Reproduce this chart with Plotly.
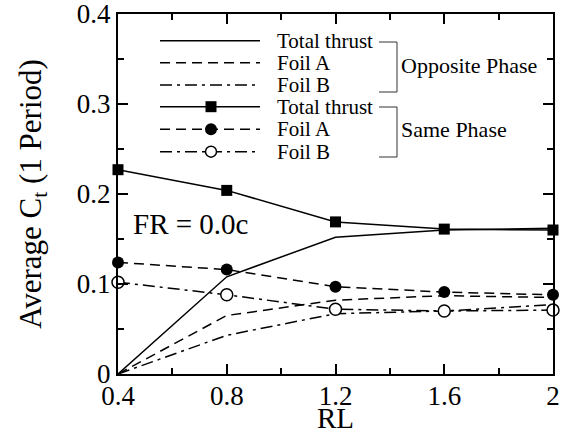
import plotly.graph_objects as go

# ---- data ----
rl = [0.4, 0.8, 1.2, 1.6, 2.0]
opp_total = [0.0, 0.108, 0.152, 0.160, 0.162]
opp_foil_a = [0.0, 0.065, 0.082, 0.087, 0.085]
opp_foil_b = [0.0, 0.043, 0.067, 0.070, 0.077]
same_total = [0.227, 0.204, 0.169, 0.161, 0.160]
same_foil_a = [0.124, 0.116, 0.097, 0.091, 0.088]
same_foil_b = [0.102, 0.088, 0.072, 0.070, 0.071]

x_tickvals = [0.4, 0.8, 1.2, 1.6, 2.0]
x_ticktext = ["0.4", "0.8", "1.2", "1.6", "2"]
y_tickvals = [0, 0.1, 0.2, 0.3, 0.4]
y_ticktext = ["0", "0.1", "0.2", "0.3", "0.4"]

legend_labels = ["Total thrust", "Foil A", "Foil B", "Total thrust", "Foil A", "Foil B"]
group_labels = ["Opposite Phase", "Same Phase"]

FONT = "Liberation Serif"
DASH = "10px,6px"
DASHDOT = "12px,5px,3px,5px"
LW = 1.5

W, H = 562, 434
ML, MR, MT, MB = 118, 9, 14, 60
PW, PH = W - ML - MR, H - MT - MB


def X(px):
    return (px - ML) / PW


def Y(py):
    return (H - MB - py) / PH


fig = go.Figure()

series = [
    (opp_total, "solid", None),
    (opp_foil_a, DASH, None),
    (opp_foil_b, DASHDOT, None),
    (same_total, "solid", dict(symbol="square", size=11, color="black")),
    (same_foil_a, DASH, dict(symbol="circle", size=12, color="black")),
    (same_foil_b, DASHDOT, dict(symbol="circle", size=12, color="white",
                                line=dict(color="black", width=1.5))),
]

for vals, dash, marker in series:
    fig.add_trace(go.Scatter(
        x=rl, y=vals,
        mode="lines+markers" if marker else "lines",
        line=dict(color="black", width=LW, dash=dash),
        marker=marker,
        cliponaxis=False,
        showlegend=False,
    ))

shapes = []
annotations = []

# ---- hand-drawn legend (layout decoration) ----
rows_py = [40.7, 62.7, 85, 106.7, 129.3, 151.7]
dashes = ["solid", DASH, DASHDOT, "solid", DASH, DASHDOT]
for i, (py, d, lab) in enumerate(zip(rows_py, dashes, legend_labels)):
    shapes.append(dict(type="line", xref="paper", yref="paper",
                       x0=X(160), x1=X(260), y0=Y(py), y1=Y(py),
                       line=dict(color="black", width=LW, dash=d)))
    annotations.append(dict(xref="paper", yref="paper", x=X(275), y=Y(py),
                            xanchor="left", yanchor="middle", showarrow=False,
                            text=lab, font=dict(family=FONT, size=21, color="black")))
    if i == 3:
        shapes.append(dict(type="rect", xref="paper", yref="paper",
                           xsizemode="pixel", ysizemode="pixel",
                           xanchor=X(211), yanchor=Y(py),
                           x0=-5.5, x1=5.5, y0=-5.5, y1=5.5,
                           fillcolor="black", line=dict(width=0)))
    elif i == 4:
        shapes.append(dict(type="circle", xref="paper", yref="paper",
                           xsizemode="pixel", ysizemode="pixel",
                           xanchor=X(211), yanchor=Y(py),
                           x0=-6, x1=6, y0=-6, y1=6,
                           fillcolor="black", line=dict(width=0)))
    elif i == 5:
        shapes.append(dict(type="circle", xref="paper", yref="paper",
                           xsizemode="pixel", ysizemode="pixel",
                           xanchor=X(211), yanchor=Y(py),
                           x0=-5.5, x1=5.5, y0=-5.5, y1=5.5,
                           fillcolor="white", line=dict(color="black", width=1.5)))

# brackets
for (top, bot) in [(42, 92), (107, 157)]:
    shapes.append(dict(type="path", xref="paper", yref="paper",
                       path=f"M {X(379)},{Y(top)} L {X(397)},{Y(top)} L {X(397)},{Y(bot)} L {X(379)},{Y(bot)}",
                       line=dict(color="#333333", width=1)))
for lab, py in zip(group_labels, [65, 129]):
    annotations.append(dict(xref="paper", yref="paper", x=X(399), y=Y(py),
                            xanchor="left", yanchor="middle", showarrow=False,
                            text=lab, font=dict(family=FONT, size=22, color="black")))

annotations.append(dict(xref="x", yref="y", x=0.668, y=0.167,
                        xanchor="center", yanchor="middle", showarrow=False,
                        text="FR = 0.0c", font=dict(family=FONT, size=29, color="black")))

axis_common = dict(
    showline=True, linecolor="black", linewidth=2, mirror="allticks",
    ticks="inside", ticklen=10, tickwidth=1.5, tickcolor="black",
    showgrid=False, zeroline=False, ticklabeloverflow="allow",
    tickfont=dict(family=FONT, size=27, color="black"),
    minor=dict(ticks="inside", ticklen=6, tickwidth=1.5, tickcolor="black", showgrid=False),
)

fig.update_layout(
    width=W, height=H,
    margin=dict(l=ML, r=MR, t=MT, b=MB, autoexpand=False),
    paper_bgcolor="white", plot_bgcolor="white",
    font=dict(family=FONT, color="black"),
    showlegend=False,
    shapes=shapes,
    annotations=annotations,
    xaxis=dict(axis_common, range=[0.4, 2.0], tickvals=x_tickvals, ticktext=x_ticktext,
               minor=dict(axis_common["minor"], dtick=0.2, tick0=0.4),
               title=dict(text="RL", font=dict(family=FONT, size=29), standoff=9),
               ticklabelstandoff=-3),
    yaxis=dict(axis_common, range=[0, 0.4], tickvals=y_tickvals, ticktext=y_ticktext,
               minor=dict(axis_common["minor"], dtick=0.05, tick0=0),
               title=dict(text="Average C<sub>t</sub> (1 Period)", font=dict(family=FONT, size=31), standoff=26),
               ticklabelstandoff=0),
)

fig.write_html("out.html", config={"displayModeBar": False},
               post_script="document.body.style.margin='0';document.body.style.overflow='hidden';")
